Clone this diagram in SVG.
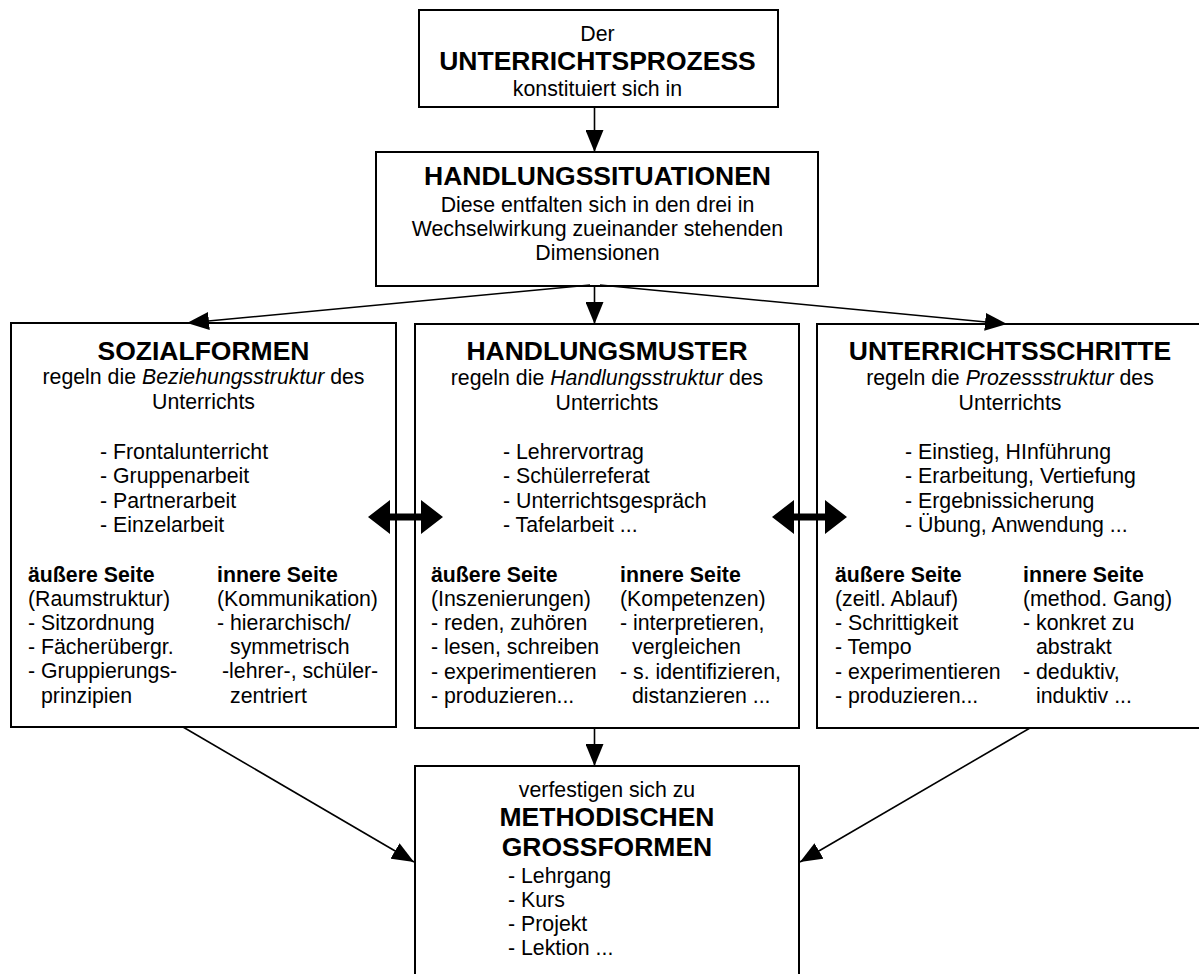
<svg xmlns="http://www.w3.org/2000/svg" width="1199" height="974" viewBox="0 0 1199 974">
<style>
.box{fill:#fff;stroke:#000;stroke-width:2}
text{font-family:"Liberation Sans",Arial,sans-serif;font-size:21.3px;fill:#000}
.c{text-anchor:middle}
.t{font-weight:bold;font-size:26.5px}
.b{font-weight:bold}
.i{font-style:italic}
.con{stroke:#000;stroke-width:1.6;fill:none;marker-end:url(#ah)}
</style>
<defs>
<marker id="ah" viewBox="0 0 22 18" refX="22" refY="9" markerWidth="22" markerHeight="18" markerUnits="userSpaceOnUse" orient="auto">
<path d="M0,0 L22,9 L0,18 Z" fill="#000"/>
</marker>
</defs>
<rect width="1199" height="974" fill="#fff"/>

<g id="node-prozess">
<rect class="box" x="419" y="10" width="359" height="97"/>
<text class="c" x="597.5" y="41">Der</text>
<text class="c t" x="597.5" y="70">UNTERRICHTSPROZESS</text>
<text class="c" x="597.5" y="96">konstituiert sich in</text>
</g>

<g id="node-handlungssituationen">
<rect class="box" x="376" y="152" width="442" height="134"/>
<text class="c t" x="597.5" y="185">HANDLUNGSSITUATIONEN</text>
<text class="c" x="597.5" y="212">Diese entfalten sich in den drei in</text>
<text class="c" x="597.5" y="236">Wechselwirkung zueinander stehenden</text>
<text class="c" x="597.5" y="260">Dimensionen</text>
</g>

<g id="node-sozialformen">
<rect class="box" x="11" y="323" width="385" height="404"/>
<text class="c t" x="203.5" y="360">SOZIALFORMEN</text>
<text class="c" x="203.5" y="384">regeln die <tspan class="i">Beziehungsstruktur</tspan> des</text>
<text class="c" x="203.5" y="409">Unterrichts</text>
<text x="100" y="459">- Frontalunterricht</text>
<text x="100" y="483">- Gruppenarbeit</text>
<text x="100" y="508">- Partnerarbeit</text>
<text x="100" y="532">- Einzelarbeit</text>
<text class="b" x="28" y="582">äußere Seite</text>
<text x="28" y="606">(Raumstruktur)</text>
<text x="28" y="630">- Sitzordnung</text>
<text x="28" y="654">- Fächerübergr.</text>
<text x="28" y="678">- Gruppierungs-</text>
<text x="41" y="703">prinzipien</text>
<text class="b" x="217" y="582">innere Seite</text>
<text x="217" y="606">(Kommunikation)</text>
<text x="217" y="630">- hierarchisch/</text>
<text x="230" y="654">symmetrisch</text>
<text x="222" y="678">-lehrer-, schüler-</text>
<text x="230" y="703">zentriert</text>
</g>

<g id="node-handlungsmuster">
<rect class="box" x="415" y="324" width="384" height="404"/>
<text class="c t" x="607" y="360">HANDLUNGSMUSTER</text>
<text class="c" x="607" y="385">regeln die <tspan class="i">Handlungsstruktur</tspan> des</text>
<text class="c" x="607" y="410">Unterrichts</text>
<text x="503" y="459">- Lehrervortrag</text>
<text x="503" y="483">- Schülerreferat</text>
<text x="503" y="508">- Unterrichtsgespräch</text>
<text x="503" y="532">- Tafelarbeit ...</text>
<text class="b" x="431" y="582">äußere Seite</text>
<text x="431" y="606">(Inszenierungen)</text>
<text x="431" y="630">- reden, zuhören</text>
<text x="431" y="654">- lesen, schreiben</text>
<text x="431" y="679">- experimentieren</text>
<text x="431" y="703">- produzieren...</text>
<text class="b" x="620" y="582">innere Seite</text>
<text x="620" y="606">(Kompetenzen)</text>
<text x="620" y="630">- interpretieren,</text>
<text x="632" y="654">vergleichen</text>
<text x="620" y="679">- s. identifizieren,</text>
<text x="632" y="703">distanzieren ...</text>
</g>

<g id="node-unterrichtsschritte">
<rect class="box" x="817" y="324" width="388" height="404"/>
<text class="c t" x="1010" y="360">UNTERRICHTSSCHRITTE</text>
<text class="c" x="1010" y="385">regeln die <tspan class="i">Prozessstruktur</tspan> des</text>
<text class="c" x="1010" y="410">Unterrichts</text>
<text x="905" y="459">- Einstieg, HInführung</text>
<text x="905" y="483">- Erarbeitung, Vertiefung</text>
<text x="905" y="508">- Ergebnissicherung</text>
<text x="905" y="532">- Übung, Anwendung ...</text>
<text class="b" x="835" y="582">äußere Seite</text>
<text x="835" y="606">(zeitl. Ablauf)</text>
<text x="835" y="630">- Schrittigkeit</text>
<text x="835" y="654">- Tempo</text>
<text x="835" y="679">- experimentieren</text>
<text x="835" y="703">- produzieren...</text>
<text class="b" x="1023" y="582">innere Seite</text>
<text x="1023" y="606">(method. Gang)</text>
<text x="1023" y="630">- konkret zu</text>
<text x="1036" y="654">abstrakt</text>
<text x="1023" y="679">- deduktiv,</text>
<text x="1036" y="703">induktiv ...</text>
</g>

<g id="node-grossformen">
<rect class="box" x="415" y="766" width="384" height="220"/>
<text class="c" x="607" y="797">verfestigen sich zu</text>
<text class="c t" x="607" y="826">METHODISCHEN</text>
<text class="c t" x="607" y="856">GROSSFORMEN</text>
<text x="508" y="883">- Lehrgang</text>
<text x="508" y="907">- Kurs</text>
<text x="508" y="931">- Projekt</text>
<text x="508" y="955">- Lektion ...</text>
</g>

<g id="connectors">
<line class="con" x1="594.5" y1="107" x2="594.5" y2="152"/>
<line class="con" x1="590" y1="285" x2="187" y2="323"/>
<line class="con" x1="594.5" y1="286" x2="594.5" y2="324"/>
<line class="con" x1="600" y1="285" x2="1007" y2="324"/>
<line class="con" x1="183" y1="727" x2="414" y2="862"/>
<line class="con" x1="594.5" y1="728" x2="594.5" y2="766"/>
<line class="con" x1="1030" y1="728" x2="800" y2="862"/>
<polygon points="368,517 390,500 390,513.5 421,513.5 421,500 443,517 421,534 421,520.5 390,520.5 390,534" fill="#000"/>
<polygon points="772,517 794,500 794,513.5 825,513.5 825,500 847,517 825,534 825,520.5 794,520.5 794,534" fill="#000"/>
</g>
</svg>
